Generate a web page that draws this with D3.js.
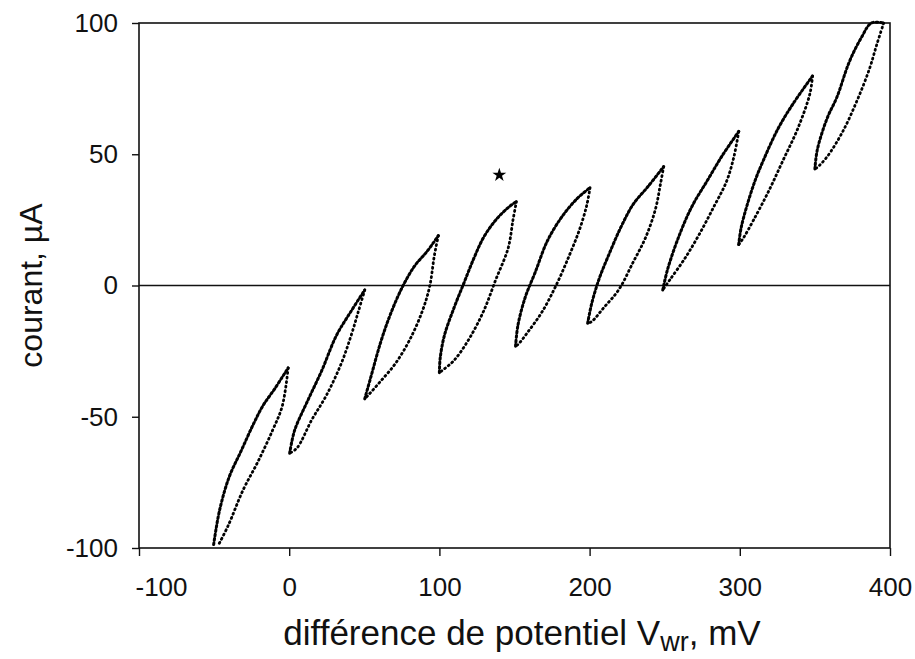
<!DOCTYPE html>
<html>
<head>
<meta charset="utf-8">
<script src="https://cdn.jsdelivr.net/npm/d3@7"></script>
<style>
  body { margin: 0; background: #fff; }
  svg text { font-family: "Liberation Sans", Arial, Helvetica, sans-serif; fill: #111; }
</style>
</head>
<body>
<svg id="chart" width="915" height="659"></svg>
<script>
var width = 915,
  height = 659;

var margin = { top: 23, right: 25, bottom: 111, left: 139 };

var xTicks = [ -100, 0, 100, 200, 300, 400 ];
var yTicks = [ -100, -50, 0, 50, 100 ];

// branches, [ mV, µA ]
// upper branch: left side of each loop, lower-left to upper-right
var upperBranches = [
  [ [-50.3,-98.7], [-46.5,-86], [-40,-73], [-32,-63], [-24,-53], [-17.6,-45.9], [-9.5,-39.2], [-0.7,-31.4] ],
  [ [0.3,-63.9], [3.6,-55.2], [11.8,-44.5], [21.6,-32.5], [31.4,-19.1], [41.2,-9.8], [50.3,-1.7] ],
  [ [50.3,-43.2], [54.2,-35.2], [60.8,-21.8], [67.3,-11.1], [75.5,-0.4], [83.7,7.6], [91.8,13], [99.3,19] ],
  [ [100,-33.2], [100.5,-27.8], [103.3,-19.1], [109.8,-8.4], [116.3,0.9], [122.9,10.3], [129.4,18.3], [137.6,25], [145.8,29.7], [151.3,32] ],
  [ [150.7,-23.1], [152.3,-15.1], [157.2,-4.4], [163.7,4.9], [171.9,17], [181.7,26.3], [191.5,33], [200.3,37.3] ],
  [ [198.7,-14.4], [201.3,-7.1], [206.2,2.3], [212.7,11.6], [220.9,22.3], [229.1,31], [238.9,37.7], [249.3,45.3] ],
  [ [248.7,-1.7], [252,6.3], [260.1,19.7], [268.3,30.3], [278.1,39.7], [287.9,49.1], [299.3,58.7] ],
  [ [299.3,15.6], [301,22.3], [309.2,38.4], [315.7,47.7], [325.5,59.8], [335.3,69.1], [348.4,79.8] ],
  [ [350,44.4], [351.6,51.7], [358.2,63.8], [364.7,71.8], [372.9,85.2], [381,94.5], [387.6,100], [395.8,100] ]
];

// lower branch: right side of each loop, upper-right back to lower-left
var lowerBranches = [
  [ [-0.7,-31.4], [-4.6,-45.9], [-11.1,-55.2], [-20.9,-67.2], [-30.7,-77.9], [-40.5,-91.3], [-47,-98.7] ],
  [ [50.3,-1.7], [46.1,-9.8], [41.2,-19.1], [34.6,-29.8], [24.8,-41.8], [15,-51.2], [5.2,-61.9], [0.3,-63.9] ],
  [ [99.3,19], [96.7,11.6], [93.5,-0.4], [88.6,-9.8], [80.4,-20.5], [70.6,-29.8], [60.8,-36.5], [52.6,-41.8], [50.3,-43.2] ],
  [ [151.3,32], [149,25], [145.8,14.3], [137.6,2.3], [129.4,-9.8], [119.6,-20.5], [109.8,-28.5], [101.6,-32.5], [100,-33.2] ],
  [ [200.3,37.3], [198,30.3], [193.1,21], [186.6,11.6], [178.4,0.9], [168.6,-9.8], [158.8,-17.8], [152.3,-22.5], [150.7,-23.1] ],
  [ [249.3,45.3], [247.1,38.4], [243.8,29], [237.3,18.3], [229.1,9], [219.3,-1.7], [209.5,-8.4], [201.3,-13.8], [198.7,-14.4] ],
  [ [299.3,58.7], [296.1,49.1], [291.2,39.7], [283,30.3], [273.2,19.7], [263.4,10.3], [253.6,2.3], [248.7,-1.7] ],
  [ [348.4,79.8], [346.7,73.1], [338.6,59.8], [328.8,47.7], [319,35.7], [309.2,25], [302.6,18.3], [299.3,15.6] ],
  [ [395.8,100], [391.2,91.8], [386.3,82.5], [378.1,70.5], [368.3,58.4], [358.2,49.1], [351.6,45], [350,44.4] ]
];

var starPoint = [ 139.9, 42.1 ];

var svg = d3.select( "#chart" );

var x = d3.scaleLinear()
  .domain( [ -100, 400 ] )
  .range( [ margin.left, width - margin.right ] );

var y = d3.scaleLinear()
  .domain( [ -100, 100 ] )
  .range( [ height - margin.bottom, margin.top ] );

// frame
svg.append( "rect" )
  .attr( "x", x( -100 ) )
  .attr( "y", y( 100 ) )
  .attr( "width", x( 400 ) - x( -100 ) )
  .attr( "height", y( -100 ) - y( 100 ) )
  .attr( "fill", "none" )
  .attr( "stroke", "#111" )
  .attr( "stroke-width", 1.6 );

// zero line
svg.append( "line" )
  .attr( "x1", x( -100 ) )
  .attr( "x2", x( 400 ) )
  .attr( "y1", y( 0 ) )
  .attr( "y2", y( 0 ) )
  .attr( "stroke", "#111" )
  .attr( "stroke-width", 1.6 );

var xAxis = d3.axisBottom( x )
  .tickValues( xTicks )
  .tickSize( 8 )
  .tickSizeOuter( 0 )
  .tickPadding( 22 )
  .tickFormat( d => String( d ) );

var yAxis = d3.axisLeft( y )
  .tickValues( yTicks )
  .tickSize( 7 )
  .tickSizeOuter( 0 )
  .tickPadding( 14 )
  .tickFormat( d => String( d ) );

var gx = svg.append( "g" )
  .attr( "transform", "translate(0," + y( -100 ) + ")" )
  .call( xAxis );

var gy = svg.append( "g" )
  .attr( "transform", "translate(" + x( -100 ) + ",0)" )
  .call( yAxis );

[ gx, gy ].forEach( g => {
  g.select( ".domain" ).remove();
  g.selectAll( "line" ).attr( "stroke", "#111" ).attr( "stroke-width", 1.4 );
  g.selectAll( "text" )
    .style( "font-size", "26px" )
    .attr( "fill", "#111" );
} );

// the first x label sits a bit to the right of its tick
gx.selectAll( ".tick text" )
  .filter( d => d === -100 )
  .attr( "dx", 22 );

// axis titles
svg.append( "text" )
  .attr( "x", 522 )
  .attr( "y", 645 )
  .attr( "text-anchor", "middle" )
  .style( "font-size", "35px" )
  .html( "différence de potentiel V<tspan dy='6' style='font-size:27px'>wr</tspan><tspan dy='-6'>, mV</tspan>" );

svg.append( "text" )
  .attr( "transform", "translate(42," + y( 0 ) + ") rotate(-90)" )
  .attr( "text-anchor", "middle" )
  .style( "font-size", "32px" )
  .text( "courant, µA" );

// loops
var line = d3.line()
  .x( d => x( d[ 0 ] ) )
  .y( d => y( d[ 1 ] ) )
  .curve( d3.curveCatmullRom );

var loops = svg.append( "g" );

loops.selectAll( "path.upper" )
  .data( upperBranches )
  .enter().append( "path" )
    .attr( "class", "upper" )
    .attr( "d", line )
    .attr( "fill", "none" )
    .attr( "stroke", "#000" )
    .attr( "stroke-width", 3 )
    .attr( "stroke-linecap", "round" )
    .attr( "stroke-dasharray", "1.8,2.6" );

loops.selectAll( "path.lower" )
  .data( lowerBranches )
  .enter().append( "path" )
    .attr( "class", "lower" )
    .attr( "d", line )
    .attr( "fill", "none" )
    .attr( "stroke", "#000" )
    .attr( "stroke-width", 2.8 )
    .attr( "stroke-linecap", "round" )
    .attr( "stroke-dasharray", "1,3.6" );

// star marker
svg.append( "path" )
  .attr( "d", d3.symbol().type( d3.symbolStar ).size( 60 ) )
  .attr( "transform", "translate(" + x( starPoint[ 0 ] ) + "," + y( starPoint[ 1 ] ) + ")" )
  .attr( "fill", "#000" );
</script>
</body>
</html>
